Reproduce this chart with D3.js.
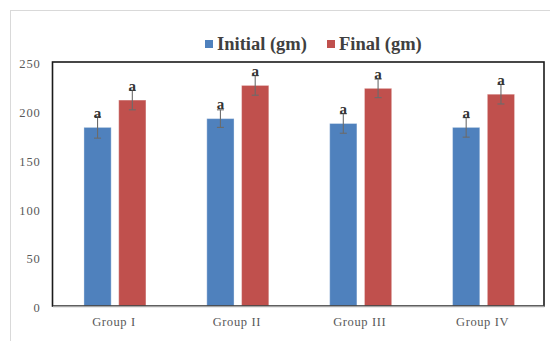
<!DOCTYPE html>
<html>
<head>
<meta charset="utf-8">
<script src="https://cdn.jsdelivr.net/npm/d3@7"></script>
<style>
  html, body { margin: 0; padding: 0; background: #fff; }
  svg { display: block; }
</style>
</head>
<body>
<svg id="chart" width="550" height="341"></svg>
<script>
// Body weight per group, initial vs final (gm)
const groups = ["Group I", "Group II", "Group III", "Group IV"];
const seriesNames = ["Initial (gm)", "Final (gm)"];
const initialWeight = [183, 192, 187, 183];
const finalWeight = [211, 226, 223, 217];
const initialErr = [11, 9, 10, 10];
const finalErr = [10, 10, 9.5, 10];
const sigLetters = [["a", "a"], ["a", "a"], ["a", "a"], ["a", "a"]];
const yTicks = [0, 50, 100, 150, 200, 250];
const colors = ["#4f81bd", "#c0504d"];

const values = [initialWeight, finalWeight];
const errors = [initialErr, finalErr];

const serif = '"Liberation Serif", "Times New Roman", serif';
const svg = d3.select("#chart");

// chart area outline
svg.append("rect")
  .attr("x", 10.5).attr("y", 10.5)
  .attr("width", 700).attr("height", 500)
  .attr("fill", "none").attr("stroke", "#d9d9d9").attr("stroke-width", 1);

const plot = { left: 52.5, right: 544, top: 62, bottom: 306 };

const y = d3.scaleLinear().domain([0, 250]).range([plot.bottom, plot.top]);
const x0 = d3.scaleBand().domain(groups).range([plot.left, plot.right]).padding(0);
const pairWidth = 62;
const x1 = d3.scaleBand().domain(d3.range(2))
  .range([(x0.bandwidth() - pairWidth) / 2 + 1, (x0.bandwidth() + pairWidth) / 2 + 1])
  .paddingInner(0.217).paddingOuter(0);

// bars, error bars and significance letters
const g = svg.append("g");
groups.forEach((grp, gi) => {
  const gg = g.append("g").attr("transform", `translate(${x0(grp)},0)`);
  [0, 1].forEach(si => {
    const v = values[si][gi];
    const e = errors[si][gi];
    const bx = x1(si);
    const bw = x1.bandwidth();
    gg.append("rect")
      .attr("x", bx).attr("y", y(v))
      .attr("width", bw).attr("height", y(0) - y(v))
      .attr("fill", colors[si])
      .attr("stroke", "rgba(255,255,255,0.35)").attr("stroke-width", 1);
    const cx = bx + bw / 2;
    const err = gg.append("g").attr("stroke", "#6b6b6b").attr("stroke-width", 1.1);
    err.append("line").attr("x1", cx).attr("x2", cx).attr("y1", y(v + e)).attr("y2", y(v - e));
    err.append("line").attr("x1", cx - 3.5).attr("x2", cx + 3.5).attr("y1", y(v + e)).attr("y2", y(v + e));
    err.append("line").attr("x1", cx - 3.5).attr("x2", cx + 3.5).attr("y1", y(v - e)).attr("y2", y(v - e));
    gg.append("text")
      .attr("x", cx).attr("y", y(v) - 9.5)
      .attr("text-anchor", "middle")
      .style("font-family", serif).style("font-weight", "bold")
      .style("font-size", "15px").attr("fill", "#333")
      .text(sigLetters[gi][si]);
  });
});

// plot frame
svg.append("rect")
  .attr("x", plot.left).attr("y", plot.top)
  .attr("width", plot.right - plot.left).attr("height", plot.bottom - plot.top)
  .attr("fill", "none").attr("stroke", "#1a1a1a").attr("stroke-width", 1.6);

// y axis labels
const yAxis = d3.axisLeft(y).tickValues(yTicks).tickSize(0).tickPadding(12);
const ya = svg.append("g").attr("transform", `translate(${plot.left},0)`).call(yAxis);
ya.select(".domain").remove();
ya.selectAll("text")
  .style("font-family", serif).style("font-size", "12.5px")
  .style("letter-spacing", "0.8px")
  .attr("fill", "#595959").attr("dy", "0.45em");

// x axis
const xAxis = d3.axisBottom(x0).tickSize(0).tickPadding(11);
const xa = svg.append("g").attr("transform", `translate(0,${plot.bottom})`).call(xAxis);
xa.select(".domain").attr("stroke", "#a6a6a6").attr("stroke-width", 1.4);
xa.selectAll("text")
  .style("font-family", serif).style("font-size", "12.5px")
  .style("letter-spacing", "0.6px")
  .attr("fill", "#595959");

// legend
const legendItems = [
  { name: seriesNames[0], color: colors[0], x: 205 },
  { name: seriesNames[1], color: colors[1], x: 327 }
];
const lg = svg.append("g");
legendItems.forEach(it => {
  lg.append("rect")
    .attr("x", it.x).attr("y", 40).attr("width", 8).attr("height", 8)
    .attr("fill", it.color);
  lg.append("text")
    .attr("x", it.x + 12).attr("y", 50)
    .style("font-family", serif).style("font-weight", "bold")
    .style("font-size", "18.5px").attr("fill", "#404040")
    .text(it.name);
});
</script>
</body>
</html>
